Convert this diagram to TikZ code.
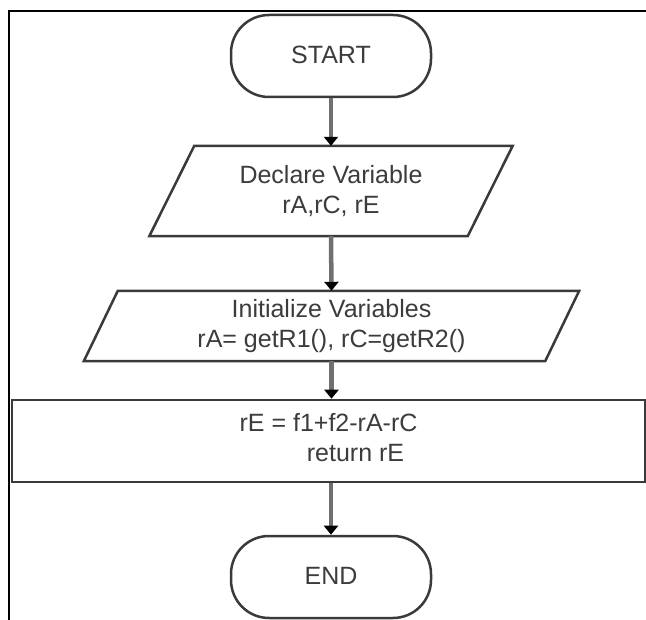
\documentclass[tikz,border=0pt]{standalone}
\usepackage{fontspec}
\setmainfont{Liberation Sans}
\usetikzlibrary{arrows.meta,calc}
\definecolor{edgec}{HTML}{3A3A3A}
\definecolor{stemc}{HTML}{707070}
\definecolor{txtc}{HTML}{3C3C3C}
\begin{document}
\begin{tikzpicture}[x=1pt,y=-1pt,
  every node/.style={font=\fontsize{25}{30}\selectfont, text=txtc},
  term/.style={draw=edgec, line width=2.5pt, rounded corners=38pt, minimum width=200pt, minimum height=82pt, inner sep=0pt},
  parabox/.style={inner sep=0pt, align=center},
  shapeline/.style={draw=edgec, line width=2.5pt, line join=miter},
  procbox/.style={draw=edgec, line width=2.5pt, minimum width=633pt, minimum height=82pt, inner sep=0pt, align=center},
  flow/.style={draw=stemc, line width=4.5pt, -{Triangle[length=9pt,width=14pt,color=black,fill=black]}},
  framec/.style={draw=black, line width=2pt}
]
\useasboundingbox (0,0) rectangle (646,620);
\clip (0,0) rectangle (646,620);
\path[fill=white] (0,0) rectangle (646,620);

% page frame
\draw[framec] (9,700) -- (9,11) -- (700,11);

% nodes
\node[term] (start) at (331,56) {\raisebox{3pt}{START}};

\node[parabox, minimum width=318pt, minimum height=90pt] (decl) at (331,191) {Declare Variable\\rA,rC, rE};
\draw[shapeline] ([xshift=22.5pt]decl.north west) -- ([xshift=22.5pt]decl.north east)
  -- ([xshift=-22.5pt]decl.south east) -- ([xshift=-22.5pt]decl.south west) -- cycle;

\node[parabox, minimum width=461pt, minimum height=70pt] (init) at (331.5,326) {Initialize Variables\\rA= getR1(), rC=getR2()};
\draw[shapeline] ([xshift=17pt]init.north west) -- ([xshift=17pt]init.north east)
  -- ([xshift=-17pt]init.south east) -- ([xshift=-17pt]init.south west) -- cycle;

\node[procbox] (proc) at (328.5,441) {\raisebox{3pt}{\begin{tabular}{@{}c@{}}rE = f1+f2-rA-rC\\\hspace*{54pt}return rE\end{tabular}}};

\node[term] (end) at (331,577) {\raisebox{2pt}{END}};

% connectors
\draw[flow] (start.south) -- (decl.north);
\draw[flow] (decl.south) -- (init.north);
\draw[flow] (init.south) -- (init.south |- proc.north);
\draw[flow] (proc.south -| end.north) -- (end.north);
\end{tikzpicture}
\end{document}
